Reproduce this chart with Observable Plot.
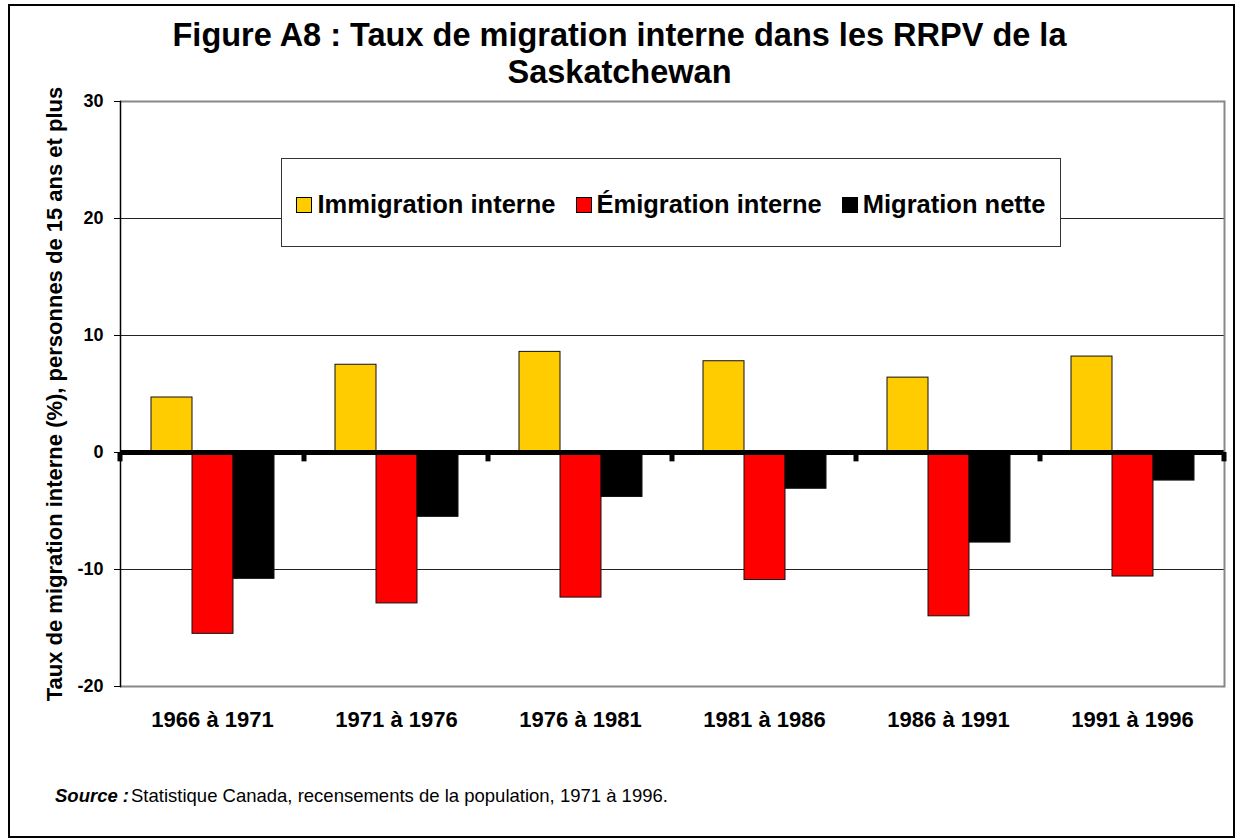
<!DOCTYPE html>
<html>
<head>
<meta charset="utf-8">
<script src="https://cdn.jsdelivr.net/npm/d3@7"></script>
<script src="https://cdn.jsdelivr.net/npm/@observablehq/plot@0.6"></script>
<style>
  html, body { margin: 0; padding: 0; background: #fff; }
  #wrap { position: relative; width: 1239px; height: 840px; overflow: hidden;
          font-family: "Liberation Sans", Arial, sans-serif; background: #fff; }
  #chart { position: absolute; left: 0; top: 0; }
  #border { position: absolute; left: 8px; top: 4px; width: 1227px; height: 834px;
            border: 2px solid #000; box-sizing: border-box; pointer-events: none; }
  #title { position: absolute; left: 0; top: 17px; width: 1239px; text-align: center;
           font-weight: bold; font-size: 32.5px; line-height: 37px; color: #000; }
  #legend { position: absolute; left: 281px; top: 158px; width: 780px; height: 89px;
            border: 1px solid #333; background: #fff; box-sizing: border-box;
            display: flex; align-items: center; justify-content: center; padding-top: 4px; }
  .item { display: flex; align-items: center; font-weight: bold; font-size: 25.5px; margin: 0 10px; white-space: nowrap; }
  .sw { width: 16px; height: 16px; border: 1px solid #000; box-sizing: border-box; margin-right: 5px; }
  #source { position: absolute; left: 55px; top: 785px; font-size: 18.5px; line-height: 22px; white-space: nowrap; }
  #source b { font-style: italic; margin-right: 2px; }
</style>
</head>
<body>
<div id="wrap">
  <div id="chart"></div>
  <div id="title"></div>
  <div id="legend"></div>
  <div id="source"></div>
  <div id="border"></div>
</div>
<script>
const titleLines = ["Figure A8 : Taux de migration interne dans les RRPV de la", "Saskatchewan"];
const yLabel = "Taux de migration interne (%), personnes de 15 ans et plus";
const periods = ["1966 à 1971", "1971 à 1976", "1976 à 1981", "1981 à 1986", "1986 à 1991", "1991 à 1996"];
const series = ["Immigration interne", "Émigration interne", "Migration nette"];
const immigration = [4.7, 7.5, 8.6, 7.8, 6.4, 8.2];
const emigration = [-15.5, -12.9, -12.4, -10.9, -14.0, -10.6];
const nette = [-10.8, -5.5, -3.8, -3.1, -7.7, -2.4];
const colors = ["#FFCC00", "#FF0000", "#000000"];
const yTicks = [-20, -10, 0, 10, 20, 30];
const gridValues = [-10, 10, 20];
const sourceBold = "Source :";
const sourceText = "Statistique Canada, recensements de la population, 1971 à 1996.";

const valuesBySeries = [immigration, emigration, nette];
const rows = periods.flatMap((p, i) => series.map((s, j) => ({period: p, series: s, value: valuesBySeries[j][i]})));

const plot = Plot.plot({
  width: 1239,
  height: 840,
  marginLeft: 119,
  marginRight: 14,
  marginTop: 101,
  marginBottom: 154,
  style: {fontFamily: '"Liberation Sans", Arial, sans-serif', background: "transparent", color: "#000"},
  fx: {domain: periods, padding: 0, label: null},
  x: {domain: series, paddingInner: 0, paddingOuter: 0.737, axis: null},
  y: {domain: [-20, 30], label: null},
  color: {domain: series, range: colors},
  marks: [
    Plot.ruleY(gridValues, {stroke: "#222", strokeWidth: 1}),
    Plot.ruleY([30, -20], {stroke: "#888", strokeWidth: 2}),
    Plot.barY(rows, {fx: "period", x: "series", y: "value", fill: "series", stroke: "#111", strokeWidth: 1}),
    Plot.ruleY([0], {stroke: "#000", strokeWidth: 5}),
    Plot.frame({anchor: "left", facetAnchor: "left", stroke: "#000", strokeWidth: 1.5}),
    Plot.frame({anchor: "right", facetAnchor: "right", stroke: "#888", strokeWidth: 2}),
    Plot.axisY({ticks: yTicks, tickSize: 6, tickPadding: 11, fontSize: 18, fontWeight: "bold",
      label: yLabel, labelAnchor: "center", labelArrow: "none", labelOffset: 74, tickFormat: d => String(d).replace("−", "-")}),
    Plot.axisFx({anchor: "bottom", tickSize: 0, tickPadding: 25, fontSize: 22, fontWeight: "bold", label: null})
  ]
});
document.getElementById("chart").appendChild(plot);

// Label font for the y axis title
d3.select(plot).selectAll("[aria-label='y-axis label'] text").attr("font-size", 22).attr("font-weight", "bold");

// category boundary ticks on the zero line, from the library's scales
const fx = plot.scale("fx");
const y = plot.scale("y");
const bounds = periods.map(p => fx.apply(p)).concat([fx.apply(periods[periods.length - 1]) + fx.bandwidth]);
const y0 = y.apply(0);
const g = d3.select(plot).append("g").attr("aria-label", "zero ticks");
g.selectAll("rect").data(bounds).join("rect")
  .attr("x", d => d - 2.5).attr("width", 5)
  .attr("y", y0).attr("height", y.apply(-0.8) - y0)
  .attr("fill", "#000");

document.getElementById("title").innerHTML = titleLines.join("<br>");
document.getElementById("legend").innerHTML = series.map((s, i) =>
  `<div class="item"><div class="sw" style="background:${colors[i]}"></div>${s}</div>`).join("");
document.getElementById("source").innerHTML = `<b>${sourceBold}</b>${sourceText}`;
</script>
</body>
</html>
